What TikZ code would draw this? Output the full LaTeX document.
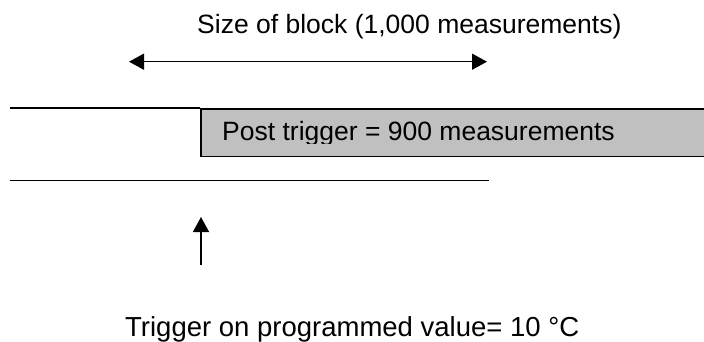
\documentclass[tikz,border=0pt]{standalone}
\usepackage{fontspec}
\setmainfont{Liberation Sans}
\usetikzlibrary{arrows.meta}
\definecolor{boxgray}{HTML}{C0C0C0}
\tikzset{
  lbl/.style={font=\fontsize{26.5}{30}\selectfont, inner sep=0pt},
  rule/.style={line width=1.5pt},
  tip/.style={-{Triangle[length=15pt,width=16pt]}},
  postbox/.style={draw, line width=1.5pt, fill=boxgray, anchor=north west,
    minimum height=47.5pt, minimum width=530pt, inner sep=0pt}
}
\begin{document}
\begin{tikzpicture}[x=1pt,y=-1pt]
\useasboundingbox (0,0) rectangle (704,341);
\node[lbl, anchor=base west] (size) at (197,33) {Size of block (1,000 measurements)};
\coordinate (al) at (129,61.7);
\coordinate (ar) at (487,61.7);
\draw[rule, {Triangle[length=15pt,width=16pt]}-{Triangle[length=15pt,width=16pt]}] (al) -- (ar);
\node[postbox] (post) at (200,108) {};
\begin{scope}
  \clip (201,109) rectangle (704,143.5);
  \node[lbl, anchor=base west] (posttext) at (222,140) {Post trigger = 900 measurements};
\end{scope}
\coordinate (tl) at (10,108);
\draw[rule] (tl) -- (post.north west);
\coordinate (bl) at (10,180.7);
\coordinate (br) at (489,180.7);
\draw[rule] (bl) -- (br);
\coordinate (ub) at (201,265);
\coordinate (ut) at (201,217);
\draw[rule, tip] (ub) -- (ut);
\node[lbl, font=\fontsize{27.5}{31}\selectfont, anchor=base west] (trig) at (125,336) {Trigger on programmed value= 10 °C};
\end{tikzpicture}
\end{document}
